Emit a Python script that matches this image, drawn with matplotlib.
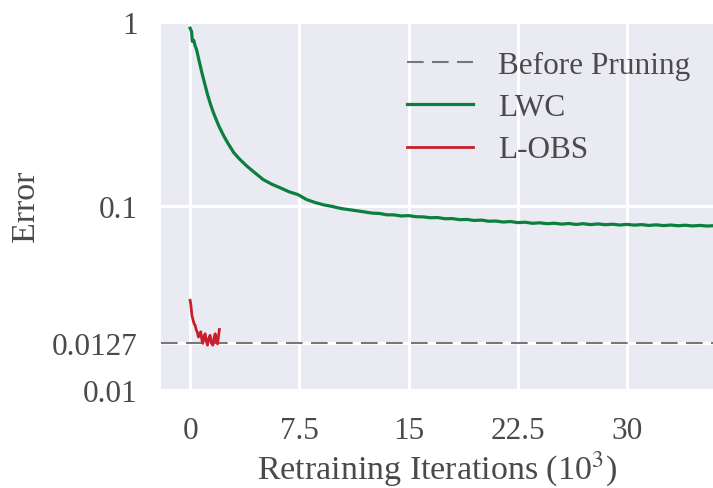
import matplotlib
matplotlib.use("Agg")
import matplotlib.pyplot as plt

# ---- data ----
lwc_x = [0, 0.1, 0.15, 0.25, 0.34, 0.45, 0.6, 0.8, 1.0, 1.2, 1.4, 1.6, 1.8, 2.0, 2.3, 2.6,
         3.0, 3.4, 3.9, 4.4, 5.0, 5.6, 6.2, 6.8, 7.4, 8.0, 8.6, 9.2, 9.8,
         10, 10.5, 11, 11.5, 12, 12.5, 13, 13.5, 14, 14.5, 15, 15.5, 16, 16.5, 17, 17.5,
         18, 18.5, 19, 19.5, 20, 20.5, 21, 21.5, 22, 22.5, 23, 23.5, 24, 24.5, 25, 25.5,
         26, 26.5, 27, 27.5, 28, 28.5, 29, 29.5, 30, 30.5, 31, 31.5, 32, 32.5, 33, 33.5,
         34, 34.5, 35, 35.5, 36]
lwc_err = [0.92, 0.88, 0.78, 0.79, 0.74, 0.70, 0.62, 0.53, 0.46, 0.40, 0.355, 0.32, 0.292, 0.268,
           0.240, 0.218, 0.194, 0.179, 0.164, 0.152, 0.139, 0.131, 0.125, 0.119, 0.115, 0.108,
           0.104, 0.101, 0.099,
           0.0980, 0.0962, 0.0950, 0.0938, 0.0925, 0.0912, 0.0908, 0.0893, 0.0892, 0.0880,
           0.0884, 0.0872, 0.0870, 0.0861, 0.0863, 0.0850, 0.0852, 0.0840, 0.0843, 0.0832,
           0.0836, 0.0824, 0.0826, 0.0816, 0.0821, 0.0810, 0.0814, 0.0803, 0.0808, 0.0799,
           0.0804, 0.0795, 0.0801, 0.0792, 0.0799, 0.0790, 0.0797, 0.0789, 0.0794, 0.0786,
           0.0792, 0.0785, 0.0790, 0.0782, 0.0788, 0.0780, 0.0786, 0.0779, 0.0784, 0.0777,
           0.0782, 0.0776, 0.0780]

lobs_x = [0, 0.06, 0.12, 0.2, 0.28, 0.34, 0.42, 0.5, 0.57, 0.65, 0.73, 0.8, 0.87, 0.95, 1.03,
          1.1, 1.19, 1.27, 1.37, 1.45, 1.56, 1.64, 1.72, 1.8, 1.88, 1.95, 2.01]
lobs_err = [0.0307, 0.0285, 0.0255, 0.0240, 0.0228, 0.0225, 0.0212, 0.0205, 0.0194, 0.0200,
            0.0207, 0.0188, 0.0179, 0.0195, 0.0202, 0.0185, 0.0175, 0.0190, 0.0198, 0.0180,
            0.0175, 0.0192, 0.0202, 0.0183, 0.0178, 0.0196, 0.0213]

before_pruning = 0.0180

x_ticks = [0, 7.5, 15, 22.5, 30]
x_tick_labels = ["0", "7.5", "15", "22.5", "30"]
y_ticks = [0.01, before_pruning, 0.1, 1]
y_tick_labels = ["0.01", "0.0127", "0.1", "1"]

# ---- style ----
plt.rcParams["font.family"] = ["Liberation Serif", "DejaVu Serif"]
plt.rcParams["mathtext.fontset"] = "stix"
text_color = "#4a4a4a"

fig = plt.figure(figsize=(7.13, 4.89), dpi=100)
ax = fig.add_axes([161 / 713, 98 / 489, 1 - 161 / 713, (391 - 22.5) / 489])
ax.set_facecolor("#EAEAF2")
for s in ax.spines.values():
    s.set_visible(False)

ax.axhline(before_pruning, color="#777777", lw=1.5, dashes=(8, 4), label="Before Pruning", zorder=2)
ax.plot(lwc_x, lwc_err, color="#0b7f3e", lw=2.3, label="LWC", zorder=3)
ax.plot(lobs_x, lobs_err, color="#c8202a", lw=2.0, label="L-OBS", zorder=3)

ax.set_yscale("log")
ax.set_ylim(0.01, 1)
ax.set_xlim(-2, 35.9)
ax.set_yticks(y_ticks)
ax.set_yticklabels(y_tick_labels)
ax.minorticks_off()
ax.set_xticks(x_ticks)
ax.set_xticklabels(x_tick_labels)
ax.tick_params(axis="both", length=0, labelsize=22.5, colors=text_color)
ax.tick_params(axis="x", pad=19)
ax.tick_params(axis="y", pad=17)
ax.grid(True, color="white", lw=2.2)
ax.set_axisbelow(True)

ax.set_xlabel("Retraining Iterations (10$^3$)", fontsize=24.5, color=text_color, labelpad=2)
ax.set_ylabel("Error", fontsize=24.5, color=text_color, labelpad=8)

leg = ax.legend(loc="upper right", bbox_to_anchor=(1.0 + 7 / 552, 1.0), fontsize=22.5,
                frameon=False, handlelength=2.1, handletextpad=0.8, labelspacing=0.42,
                borderaxespad=0.55)
for t in leg.get_texts():
    t.set_color(text_color)

fig.savefig("out.png", dpi=100)
